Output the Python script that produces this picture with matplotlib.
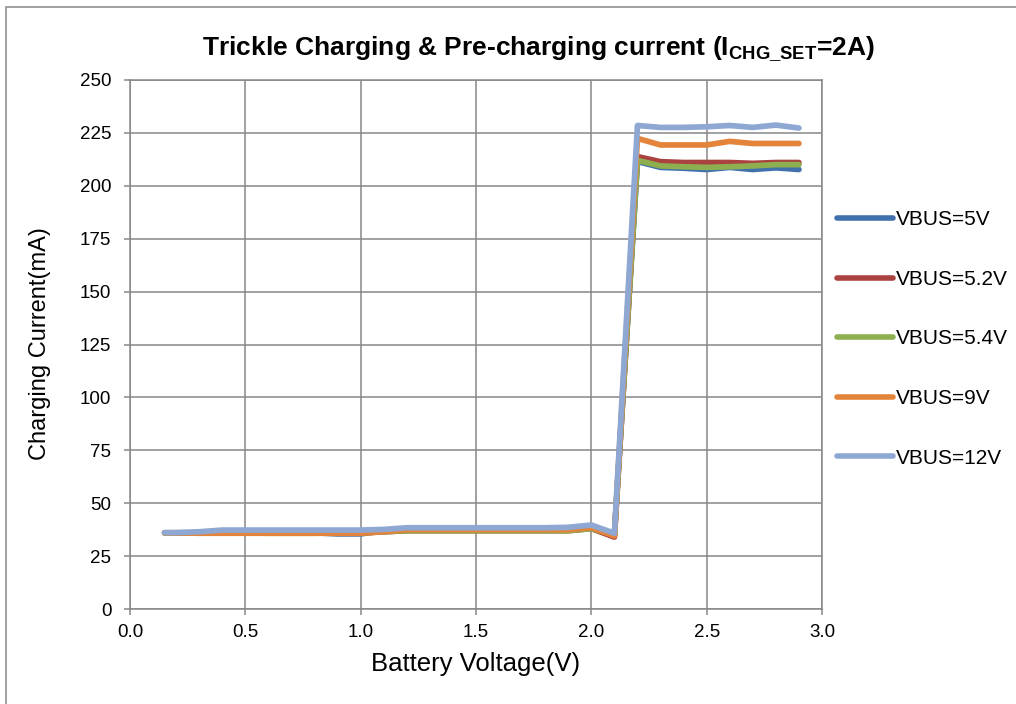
import matplotlib
matplotlib.use("Agg")
import matplotlib.pyplot as plt
from matplotlib.patches import Rectangle

plt.rcParams['font.family'] = ['Liberation Sans', 'DejaVu Sans']
plt.rcParams['mathtext.fontset'] = 'custom'
plt.rcParams['mathtext.rm'] = 'Liberation Sans'
plt.rcParams['mathtext.bf'] = 'Liberation Sans:bold'
plt.rcParams['mathtext.it'] = 'Liberation Sans:italic'

# ---- data ----
battery_v = [0.15, 0.2, 0.3, 0.4, 0.5, 0.6, 0.7, 0.8, 0.9, 1.0, 1.1, 1.2, 1.3, 1.4, 1.5,
             1.6, 1.7, 1.8, 1.9, 2.0, 2.1, 2.2, 2.3, 2.4, 2.5, 2.6, 2.7, 2.8, 2.9]

vbus_5v = [36, 36, 36, 36.5, 36.5, 36.5, 36.5, 36, 35.5, 35.5, 37, 37.5, 37.5, 37.5, 37.5,
           37.5, 37.5, 37.5, 37.5, 38.5, 35, 211.5, 208.7, 208.3, 207.7, 208.7, 207.7, 208.5, 207.7]
vbus_5_2v = [36, 36, 36, 36, 36, 36, 36, 36, 36, 36, 36.5, 37, 37, 37, 37,
             37, 37, 37, 37, 38, 34, 213.8, 211.4, 211, 211, 211, 210.6, 211, 211]
vbus_5_4v = [36, 36, 36, 36, 36, 35.8, 35.8, 35.8, 36, 36, 36.5, 37, 37, 37, 37,
             37, 37, 37, 37, 38, 35, 212, 209.4, 209, 208.7, 209, 209.4, 210, 210]
vbus_9v = [36, 36, 35.8, 35.8, 35.8, 35.8, 35.8, 35.8, 35.8, 35.8, 36.5, 37.5, 37.5, 37.5, 37.5,
           37.5, 37.5, 37.5, 37.5, 38.5, 34.5, 222.4, 219.3, 219.3, 219.3, 221, 220, 220, 220]
vbus_12v = [36.1, 36.1, 36.5, 37.3, 37.3, 37.3, 37.3, 37.3, 37.3, 37.3, 37.6, 38.4, 38.4, 38.4, 38.4,
            38.4, 38.4, 38.4, 38.6, 39.7, 35.8, 228.5, 227.6, 227.6, 227.9, 228.5, 227.6, 228.7, 227.3]

series_labels = ['VBUS=5V', 'VBUS=5.2V', 'VBUS=5.4V', 'VBUS=9V', 'VBUS=12V']
series_values = [vbus_5v, vbus_5_2v, vbus_5_4v, vbus_9v, vbus_12v]
series_colors = ['#4071AC', '#AA4240', '#8DAF4F', '#E4843A', '#8EA8D3']

x_ticks = [0.0, 0.5, 1.0, 1.5, 2.0, 2.5, 3.0]
y_ticks = [0, 25, 50, 75, 100, 125, 150, 175, 200, 225, 250]

# ---- figure ----
W, H = 1016, 704
fig = plt.figure(figsize=(W / 100, H / 100), dpi=100)
ax = fig.add_axes([130 / W, 1 - 609 / H, (822 - 130) / W, (609 - 80) / H])

grid_c = '#878787'
for v, lab, col in zip(series_values, series_labels, series_colors):
    ax.plot(battery_v, v, color=col, lw=4.1, label=lab,
            solid_joinstyle='round', solid_capstyle='round', zorder=3)

ax.set_xlim(0, 3.0)
ax.set_ylim(0, 250)
ax.set_xticks(x_ticks)
ax.set_xticklabels([f'{t:.1f}' for t in x_ticks])
ax.set_yticks(y_ticks)
ax.set_yticklabels([str(t) for t in y_ticks])
ax.grid(True, color=grid_c, lw=1.1, zorder=1)
for s in ax.spines.values():
    s.set_color(grid_c)
    s.set_linewidth(1.1)
ax.tick_params(axis='both', colors=grid_c, labelcolor='black', labelsize=13.5,
               length=4.5, width=1.1, direction='out')
ax.tick_params(axis='y', pad=9)
ax.tick_params(axis='x', pad=6)

ax.set_xlabel('Battery Voltage(V)', fontsize=18.5, labelpad=8)
fig.text(40 / W, 1 - 344 / H, 'Charging Current(mA)', rotation=90,
         ha='center', va='center', fontsize=17)

fig.text(538 / W, 1 - 54.5 / H,
         r'Trickle Charging & Pre-charging current (I$_{\mathbf{CHG\_SET}}$=2A)',
         ha='center', va='baseline', fontsize=19, fontweight='bold')

leg = fig.legend(loc='center left', bbox_to_anchor=(837 / W, 1 - 339 / H),
                 frameon=False, fontsize=15, handlelength=2.7, handletextpad=0.15,
                 labelspacing=1.95, borderpad=0, borderaxespad=0)
for h in leg.get_lines():
    h.set_linewidth(4.0)
    h.set_solid_capstyle('round')

# chart-area border (right/bottom run off the image)
fig.add_artist(Rectangle((6 / W, -0.2), 1.2, 1.2 - 7 / H, transform=fig.transFigure,
                         fill=False, edgecolor='#888888', lw=1.1, clip_on=False))

fig.savefig('out.png', dpi=100)
